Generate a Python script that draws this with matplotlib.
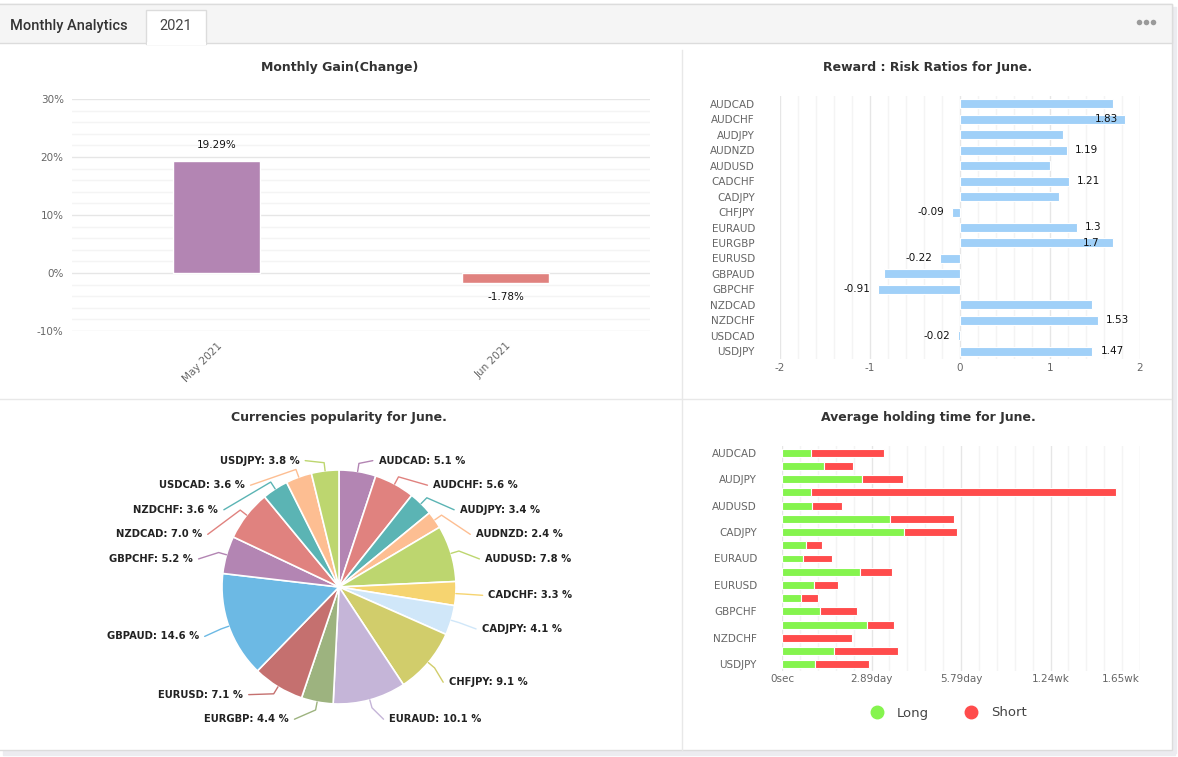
import numpy as np
import matplotlib
matplotlib.use('Agg')
import matplotlib.pyplot as plt
from matplotlib.patches import Rectangle
from matplotlib.lines import Line2D

plt.rcParams['axes.unicode_minus'] = False

# ---- data ----
gain_months = ['May 2021', 'Jun 2021']
gain_values = [19.29, -1.78]
gain_colors = ['#b385b3', '#e0827f']

pairs = ['AUDCAD', 'AUDCHF', 'AUDJPY', 'AUDNZD', 'AUDUSD', 'CADCHF', 'CADJPY',
         'CHFJPY', 'EURAUD', 'EURGBP', 'EURUSD', 'GBPAUD', 'GBPCHF', 'NZDCAD',
         'NZDCHF', 'USDCAD', 'USDJPY']
reward_risk = [1.70, 1.83, 1.14, 1.19, 1.00, 1.21, 1.10, -0.09, 1.30, 1.70,
               -0.22, -0.85, -0.91, 1.47, 1.53, -0.02, 1.47]
rr_labelled = ['AUDCHF', 'AUDNZD', 'CADCHF', 'CHFJPY', 'EURAUD', 'EURGBP',
               'EURUSD', 'GBPCHF', 'NZDCHF', 'USDCAD', 'USDJPY']

popularity = [5.1, 5.6, 3.4, 2.4, 7.8, 3.3, 4.1, 9.1, 10.1, 4.4, 7.1, 14.6,
              5.2, 7.0, 3.6, 3.6, 3.8]
pie_palette = ['#b385b3', '#e0827f', '#5bb4b4', '#fdbe92', '#bdd66f', '#f6d470',
               '#d0e7f9', '#d1cd6b', '#c5b5d8', '#9db37f', '#c5706f', '#6cb9e4']

# average holding time in seconds
hold_long = [81e3, 116e3, 224e3, 81e3, 85e3, 301e3, 342e3, 67e3, 60e3, 217e3,
             88e3, 53e3, 105e3, 238e3, 0, 144e3, 91e3]
hold_short = [205e3, 83e3, 113e3, 853e3, 83e3, 180e3, 146e3, 45e3, 80e3, 89e3,
              68e3, 48e3, 104e3, 76e3, 196e3, 180e3, 153e3]
hold_ticks = [0, 250e3, 500e3, 750e3, 1000e3]
hold_tick_labels = ['0sec', '2.89day', '5.79day', '1.24wk', '1.65wk']

W, H = 1178, 757
fig = plt.figure(figsize=(W / 100, H / 100), dpi=100)
fig.patch.set_facecolor('white')


def px_axes(x0, y0, x1, y1, **kw):
    # axes from pixel box (top-left origin)
    return fig.add_axes([x0 / W, 1 - y1 / H, (x1 - x0) / W, (y1 - y0) / H], **kw)


# ---- widget frame ----
frame = px_axes(0, 0, W, H)
frame.set_xlim(0, W)
frame.set_ylim(H, 0)
frame.axis('off')
frame.add_patch(Rectangle((3, 751), 1172, 4, color='#ececf0', zorder=0))
frame.add_patch(Rectangle((1173, 7), 3, 746, color='#ececf0', zorder=0))
frame.add_patch(Rectangle((-2, 4), 1174, 746, facecolor='white', edgecolor='#dcdcdc', lw=1, zorder=1))
frame.add_patch(Rectangle((-2, 4), 1174, 39, facecolor='#f5f5f5', edgecolor='#dcdcdc', lw=1, zorder=2))
frame.add_patch(Rectangle((146, 10), 60, 34, facecolor='white', edgecolor='#dcdcdc', lw=1, zorder=3))
frame.add_patch(Rectangle((146.5, 42), 59, 3, facecolor='white', edgecolor='none', zorder=4))
frame.text(10, 26, 'Monthly Analytics', fontsize=10.5, family='Roboto', fontweight='medium',
           color='#333333', va='center', zorder=5)
frame.text(176, 26, '2021', fontsize=10.5, family='Roboto', color='#444444',
           va='center', ha='center', zorder=5)
for dx in (1139, 1146, 1153):
    frame.plot(dx, 22, 'o', ms=4, mew=0, color='#9a9a9a', zorder=5)
frame.plot([682, 682], [50, 750], color='#e8e8e8', lw=1, zorder=2)
frame.plot([0, 1171], [399, 399], color='#e8e8e8', lw=1, zorder=2)

title_kw = dict(fontsize=9, fontweight='bold', color='#333333', ha='center', va='center', zorder=5)
frame.text(340, 68, 'Monthly Gain(Change)', **title_kw)
frame.text(928, 68, 'Reward : Risk Ratios for June.', **title_kw)
frame.text(339, 418, 'Currencies popularity for June.', **title_kw)
frame.text(928, 418, 'Average holding time for June.', **title_kw)

tick_kw = dict(labelsize=7.5, labelcolor='#666666', length=0)

# ---- monthly gain ----
ax1 = px_axes(72, 99, 650, 331)
ax1.set_facecolor('none')
x = np.arange(len(gain_months))
ax1.bar(x, gain_values, width=0.3, color=gain_colors, edgecolor='white', lw=1, zorder=3)
ax1.set_xlim(-0.5, len(gain_months) - 0.5)
ax1.set_ylim(-10, 30)
ax1.set_yticks([-10, 0, 10, 20, 30])
ax1.set_yticklabels(['-10%', '0%', '10%', '20%', '30%'])
ax1.set_yticks(np.arange(-10, 31, 2), minor=True)
ax1.grid(axis='y', which='major', color='#e6e6e6', lw=1)
ax1.grid(axis='y', which='minor', color='#f4f4f4', lw=1)
ax1.set_xticks(x)
ax1.set_xticklabels(gain_months, rotation=45, ha='right', rotation_mode='anchor')
ax1.tick_params(axis='both', which='both', **tick_kw)
ax1.tick_params(axis='x', pad=7)
ax1.tick_params(axis='y', pad=6)
for s in ax1.spines.values():
    s.set_visible(False)
for xi, v in zip(x, gain_values):
    off = 16 if v >= 0 else -14
    ax1.annotate(f'{v:.2f}%', (xi, v), xytext=(0, off), textcoords='offset pixels',
                 ha='center', va='center', fontsize=7.5, color='#111111')

# ---- reward : risk ----
ax2 = px_axes(780, 96, 1140, 359)
ax2.set_facecolor('none')
y = np.arange(len(pairs))
ax2.barh(y, reward_risk, height=0.58, color='#a0d0f8', edgecolor='white', lw=0.8, zorder=3)
ax2.set_xlim(-2, 2)
ax2.set_ylim(len(pairs) - 0.5, -0.5)
ax2.set_yticks(y)
ax2.set_yticklabels(pairs)
ax2.set_xticks([-2, -1, 0, 1, 2])
ax2.set_xticks(np.arange(-2, 2.01, 0.2), minor=True)
ax2.grid(axis='x', which='major', color='#e6e6e6', lw=1)
ax2.grid(axis='x', which='minor', color='#f4f4f4', lw=1)
ax2.grid(axis='y', visible=False)
ax2.tick_params(axis='both', which='both', **tick_kw)
ax2.tick_params(axis='y', pad=18)
ax2.tick_params(axis='x', pad=3)
for s in ax2.spines.values():
    s.set_visible(False)
for yi, (name, v) in enumerate(zip(pairs, reward_risk)):
    if name not in rr_labelled:
        continue
    if v >= 0:
        xl = v + 0.09 if v + 0.36 < 2.05 else v - 0.33
        ax2.text(xl, yi, f'{v:g}', ha='left', va='center', fontsize=7.5, color='#111111', zorder=4)
    else:
        ax2.text(v - 0.09, yi, f'{v:g}', ha='right', va='center', fontsize=7.5, color='#111111', zorder=4)

# ---- currency popularity pie ----
cx, cy, R = 339, 587, 117
L, T, Rt, B = 20, 432, 660, 745
ax3 = px_axes(L, T, Rt, B)
ax3.axis('off')
colors = [pie_palette[i % len(pie_palette)] for i in range(len(popularity))]
wedges, _ = ax3.pie(popularity, colors=colors, startangle=90, counterclock=False, radius=1,
                    wedgeprops=dict(edgecolor='white', linewidth=1.2))
ax3.set_aspect('auto')
ax3.set_xlim((L - cx) / R, (Rt - cx) / R)
ax3.set_ylim((cy - B) / R, (cy - T) / R)

mids = np.deg2rad([(w.theta1 + w.theta2) / 2 for w in wedges])
nat_y = 1.26 * np.sin(mids)
side = np.where(np.cos(mids) >= 0, 1, -1)
ytop, ybot, gap = 1.08, -1.13, 0.21
lab_y = nat_y.copy()
for sd in (1, -1):
    idx = [i for i in np.argsort(-nat_y) if side[i] == sd]
    prev = None
    for i in idx:
        lab_y[i] = min(nat_y[i], ytop) if prev is None else min(nat_y[i], lab_y[prev] - gap)
        prev = i
    nxt = None
    for i in idx[::-1]:
        lab_y[i] = max(lab_y[i], ybot) if nxt is None else max(lab_y[i], lab_y[nxt] + gap)
        nxt = i

for i, w in enumerate(wedges):
    yy = lab_y[i]
    b = 1.12 if yy > 0 else 1.2
    xx = 1.28 * np.sqrt(max(1 - (yy / b) ** 2, 0.0))
    xx = max(xx, 0.33)
    sd = side[i]
    ex, ey = np.cos(mids[i]), np.sin(mids[i])
    ax3.plot([ex, ex * 1.07, sd * (xx - 0.05)], [ey, ey * 1.07, yy],
             color=colors[i], lw=1, solid_capstyle='round')
    ax3.text(sd * xx, yy, f'{pairs[i]}: {popularity[i]:.1f} %', ha='left' if sd > 0 else 'right',
             va='center', fontsize=7.2, fontweight='bold', color='#222222')

# ---- average holding time ----
ax4 = px_axes(782, 446, 1140, 671)
ax4.set_facecolor('none')
ax4.barh(y, hold_long, height=0.6, color='#85f44e', edgecolor='white', lw=0.8, zorder=3)
ax4.barh(y, hold_short, left=hold_long, height=0.6, color='#ff4c4c', edgecolor='white', lw=0.8, zorder=3)
ax4.set_xlim(0, 1000e3)
ax4.set_ylim(len(pairs) - 0.5, -0.5)
ax4.set_yticks(y[::2])
ax4.set_yticklabels(pairs[::2])
ax4.set_xticks(hold_ticks)
ax4.set_xticklabels(hold_tick_labels)
ax4.set_xticks(np.arange(0, 1000e3 + 1, 50e3), minor=True)
ax4.grid(axis='x', which='major', color='#e6e6e6', lw=1)
ax4.grid(axis='x', which='minor', color='#f4f4f4', lw=1)
ax4.tick_params(axis='both', which='both', **tick_kw)
ax4.tick_params(axis='y', pad=18)
ax4.tick_params(axis='x', pad=2)
ax4.get_xticklabels()[-1].set_ha('right')
for s in ax4.spines.values():
    s.set_visible(False)

handles = [Line2D([], [], marker='o', ls='none', ms=9, color='#85f44e'),
           Line2D([], [], marker='o', ls='none', ms=9, color='#ff4c4c')]
fig.legend(handles, ['Long', 'Short'], loc='center', bbox_to_anchor=(945 / W, 1 - 713 / H),
           ncol=2, frameon=False, fontsize=9.5, labelcolor='#444444', handletextpad=0.5,
           columnspacing=2.2)

fig.savefig('out.png', dpi=100)
